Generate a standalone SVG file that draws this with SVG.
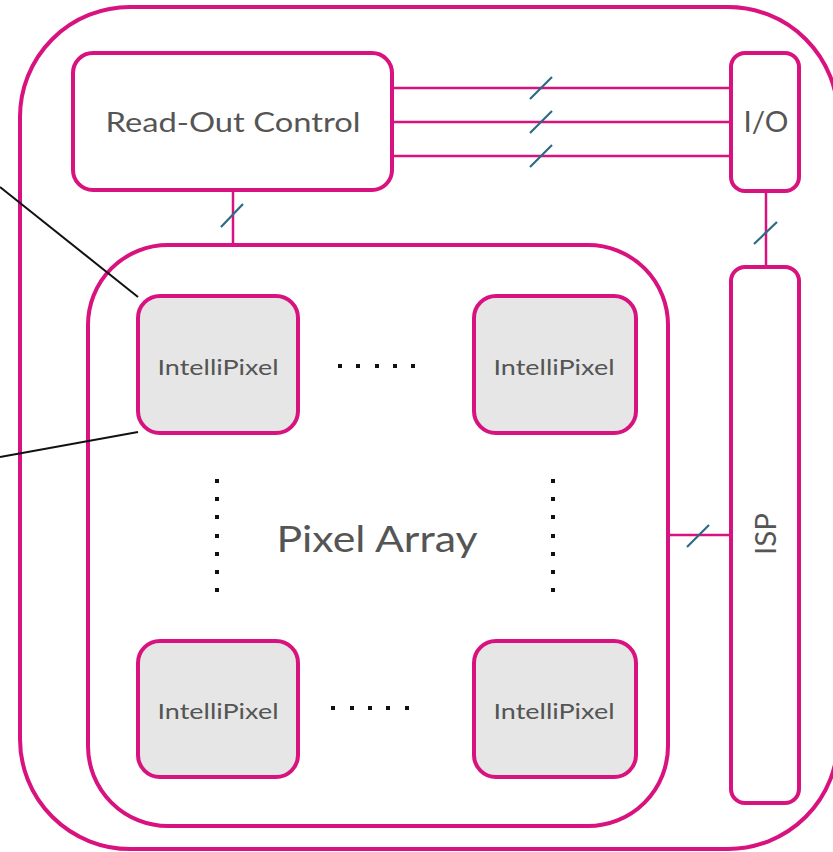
<svg xmlns="http://www.w3.org/2000/svg" width="833" height="852" viewBox="0 0 833 852">
  <style>
    .frame { fill: none; stroke: #d8127e; stroke-width: 4; }
    .block { fill: #ffffff; stroke: #d8127e; stroke-width: 4; }
    .cell { fill: #e6e6e6; stroke: #d8127e; stroke-width: 4; }
    .bus { stroke: #d8127e; stroke-width: 2.5; fill: none; }
    .width { stroke: #2b6a85; stroke-width: 2.2; }
    .lead { stroke: #111111; stroke-width: 2; fill: none; }
    .label { font-family: Lato, "Noto Sans", sans-serif; fill: #555555; text-anchor: middle; }
    .dot { fill: #111111; }
  </style>

  <!-- sensor die outline -->
  <g id="chip">
    <rect class="frame" x="20" y="7" width="818" height="842" rx="110"/>
  </g>

  <g id="readout-control">
    <rect class="block" x="73" y="53" width="319" height="137" rx="20"/>
    <text class="label" x="233" y="132" font-size="27" textLength="255" lengthAdjust="spacingAndGlyphs">Read-Out Control</text>
  </g>

  <g id="io">
    <rect class="block" x="731" y="53" width="68" height="138" rx="14"/>
    <text class="label" x="766" y="132" font-size="28" textLength="45" lengthAdjust="spacingAndGlyphs">I/O</text>
  </g>

  <g id="isp">
    <rect class="block" x="731" y="267" width="68" height="536" rx="14"/>
    <text class="label" transform="translate(776 534) rotate(-90)" x="0" y="0" font-size="28" textLength="42" lengthAdjust="spacingAndGlyphs">ISP</text>
  </g>

  <g id="pixel-array">
    <rect class="block" x="88" y="245" width="580" height="581" rx="80"/>
    <text class="label" x="377" y="552" font-size="36" textLength="201" lengthAdjust="spacingAndGlyphs">Pixel Array</text>
  </g>

  <g id="pixel-top-left">
    <rect class="cell" x="138" y="296" width="160" height="137" rx="22"/>
    <text class="label" x="218" y="375" font-size="22" textLength="121" lengthAdjust="spacingAndGlyphs">IntelliPixel</text>
  </g>
  <g id="pixel-top-right">
    <rect class="cell" x="474" y="296" width="162" height="137" rx="22"/>
    <text class="label" x="554" y="375" font-size="22" textLength="121" lengthAdjust="spacingAndGlyphs">IntelliPixel</text>
  </g>
  <g id="pixel-bottom-left">
    <rect class="cell" x="138" y="641" width="160" height="136" rx="22"/>
    <text class="label" x="218" y="719" font-size="22" textLength="121" lengthAdjust="spacingAndGlyphs">IntelliPixel</text>
  </g>
  <g id="pixel-bottom-right">
    <rect class="cell" x="474" y="641" width="162" height="136" rx="22"/>
    <text class="label" x="554" y="719" font-size="22" textLength="121" lengthAdjust="spacingAndGlyphs">IntelliPixel</text>
  </g>

  <!-- ellipsis dots between cells -->
  <g id="ellipses">
    <rect class="dot" x="338" y="364" width="4" height="4"/>
    <rect class="dot" x="356" y="364" width="4" height="4"/>
    <rect class="dot" x="375" y="364" width="4" height="4"/>
    <rect class="dot" x="393" y="364" width="4" height="4"/>
    <rect class="dot" x="411" y="364" width="4" height="4"/>

    <rect class="dot" x="331" y="706" width="4" height="4"/>
    <rect class="dot" x="350" y="706" width="4" height="4"/>
    <rect class="dot" x="368" y="706" width="4" height="4"/>
    <rect class="dot" x="386" y="706" width="4" height="4"/>
    <rect class="dot" x="405" y="706" width="4" height="4"/>

    <rect class="dot" x="215" y="479" width="4" height="4"/>
    <rect class="dot" x="215" y="497" width="4" height="4"/>
    <rect class="dot" x="215" y="515" width="4" height="4"/>
    <rect class="dot" x="215" y="534" width="4" height="4"/>
    <rect class="dot" x="215" y="552" width="4" height="4"/>
    <rect class="dot" x="215" y="570" width="4" height="4"/>
    <rect class="dot" x="215" y="588" width="4" height="4"/>

    <rect class="dot" x="551" y="479" width="4" height="4"/>
    <rect class="dot" x="551" y="497" width="4" height="4"/>
    <rect class="dot" x="551" y="515" width="4" height="4"/>
    <rect class="dot" x="551" y="534" width="4" height="4"/>
    <rect class="dot" x="551" y="552" width="4" height="4"/>
    <rect class="dot" x="551" y="570" width="4" height="4"/>
    <rect class="dot" x="551" y="588" width="4" height="4"/>
  </g>

  <!-- links between blocks, drawn over the block outlines -->
  <g id="connectors">
    <line class="bus" x1="392" y1="88" x2="730" y2="88"/>
    <line class="bus" x1="392" y1="122" x2="730" y2="122"/>
    <line class="bus" x1="392" y1="156" x2="730" y2="156"/>
    <line class="bus" x1="233" y1="191" x2="233" y2="244"/>
    <line class="bus" x1="766" y1="192" x2="766" y2="266"/>
    <line class="bus" x1="669" y1="535" x2="730" y2="535"/>
    <!-- bus-width ticks -->
    <line class="width" x1="530" y1="99" x2="552" y2="77"/>
    <line class="width" x1="530" y1="133" x2="552" y2="111"/>
    <line class="width" x1="530" y1="167" x2="552" y2="145"/>
    <line class="width" x1="221" y1="227" x2="243" y2="204"/>
    <line class="width" x1="754" y1="244" x2="777" y2="222"/>
    <line class="width" x1="687" y1="547" x2="709" y2="525"/>
    <!-- leader lines off the left edge -->
    <line class="lead" x1="0" y1="187" x2="138" y2="297"/>
    <line class="lead" x1="0" y1="457" x2="138" y2="432"/>
  </g>
</svg>
